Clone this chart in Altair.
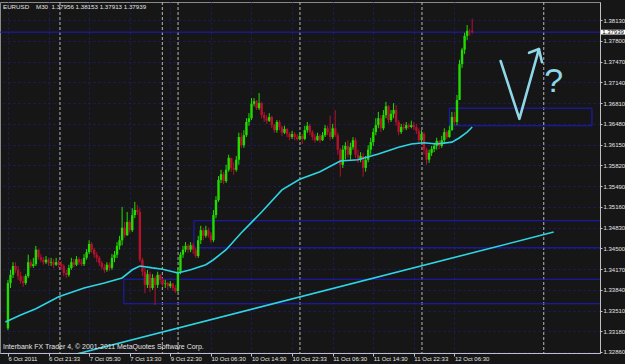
import altair as alt
import pandas as pd

# ---------------- data ----------------
first_open = 1.3323
closes = [1.3395,1.3408,1.3422,1.3416,1.3406,1.3398,1.3395,1.3406,1.3428,1.3422,
          1.3425,1.3448,1.3436,1.3432,1.3428,1.3432,1.3427,1.3428,1.3424,1.3428,
          1.3425,1.3422,1.3411,1.3408,1.3419,1.3428,1.3424,1.3433,1.3428,1.3425,
          1.3435,1.3444,1.3457,1.3448,1.3440,1.3435,1.3427,1.3420,1.3416,1.3424,
          1.3419,1.3435,1.3440,1.3454,1.3463,1.3483,1.3471,1.3492,1.3479,1.3503,
          1.3511,1.3508,1.3432,1.3413,1.3392,1.3409,1.3387,1.3403,1.3392,1.3408,
          1.3400,1.3394,1.3395,1.3390,1.3394,1.3387,1.3382,1.3413,1.3440,1.3448,
          1.3454,1.3448,1.3455,1.3448,1.3438,1.3463,1.3479,1.3470,1.3479,1.3471,
          1.3463,1.3503,1.3527,1.3559,1.3568,1.3557,1.3575,1.3594,1.3578,1.3575,
          1.3591,1.3627,1.3614,1.3630,1.3651,1.3657,1.3680,1.3684,1.3673,1.3681,
          1.3662,1.3657,1.3653,1.3659,1.3646,1.3638,1.3651,1.3643,1.3634,1.3640,
          1.3632,1.3627,1.3632,1.3627,1.3624,1.3629,1.3624,1.3638,1.3645,1.3635,
          1.3627,1.3622,1.3629,1.3622,1.3630,1.3641,1.3635,1.3627,1.3641,1.3630,
          1.3607,1.3583,1.3607,1.3613,1.3599,1.3611,1.3622,1.3599,1.3591,1.3597,
          1.3578,1.3591,1.3607,1.3619,1.3635,1.3646,1.3657,1.3641,1.3662,1.3676,
          1.3654,1.3664,1.3670,1.3651,1.3635,1.3643,1.3641,1.3646,1.3643,1.3646,
          1.3643,1.3637,1.3622,1.3632,1.3607,1.3591,1.3602,1.3608,1.3613,1.3621,
          1.3613,1.3622,1.3635,1.3627,1.3638,1.3659,1.3651,1.3686,1.3743,1.3766,
          1.3788,1.3796,1.37956,1.37939]
highs = [1.3400,1.3416,1.3428,1.3428,1.3422,1.3413,1.3406,1.3409,1.3440,1.3432,
         1.3435,1.3454,1.3449,1.3441,1.3436,1.3438,1.3435,1.3435,1.3433,1.3435,
         1.3432,1.3430,1.3425,1.3416,1.3424,1.3435,1.3433,1.3438,1.3436,1.3433,
         1.3441,1.3449,1.3463,1.3460,1.3451,1.3444,1.3438,1.3430,1.3425,1.3428,
         1.3428,1.3441,1.3446,1.3460,1.3470,1.3516,1.3492,1.3508,1.3495,1.3514,
         1.3524,1.3519,1.3514,1.3435,1.3419,1.3416,1.3413,1.3409,1.3406,1.3413,
         1.3409,1.3403,1.3400,1.3397,1.3398,1.3395,1.3392,1.3419,1.3444,1.3454,
         1.3460,1.3457,1.3460,1.3459,1.3451,1.3470,1.3486,1.3483,1.3486,1.3483,
         1.3476,1.3511,1.3533,1.3565,1.3575,1.3572,1.3583,1.3599,1.3594,1.3587,
         1.3597,1.3634,1.3634,1.3638,1.3657,1.3665,1.3689,1.3689,1.3686,1.3697,
         1.3683,1.3667,1.3662,1.3665,1.3661,1.3648,1.3654,1.3654,1.3645,1.3645,
         1.3641,1.3635,1.3637,1.3635,1.3632,1.3634,1.3632,1.3645,1.3651,1.3648,
         1.3638,1.3632,1.3634,1.3632,1.3635,1.3646,1.3645,1.3661,1.3648,1.3670,
         1.3634,1.3610,1.3614,1.3619,1.3622,1.3618,1.3627,1.3626,1.3607,1.3603,
         1.3602,1.3597,1.3614,1.3626,1.3641,1.3657,1.3667,1.3662,1.3670,1.3683,
         1.3678,1.3670,1.3681,1.3678,1.3654,1.3648,1.3649,1.3651,1.3649,1.3653,
         1.3651,1.3648,1.3641,1.3638,1.3635,1.3610,1.3607,1.3613,1.3618,1.3626,
         1.3622,1.3629,1.3641,1.3638,1.3645,1.3667,1.3667,1.3694,1.3750,1.3769,
         1.3793,1.3805,1.3799,1.38153]
lows = [1.3320,1.3387,1.3403,1.3411,1.3400,1.3394,1.3389,1.3392,1.3403,1.3419,
        1.3419,1.3422,1.3432,1.3428,1.3424,1.3425,1.3422,1.3422,1.3419,1.3422,
        1.3419,1.3416,1.3406,1.3403,1.3405,1.3416,1.3420,1.3422,1.3424,1.3422,
        1.3422,1.3432,1.3441,1.3443,1.3435,1.3428,1.3422,1.3416,1.3411,1.3413,
        1.3414,1.3416,1.3428,1.3435,1.3448,1.3455,1.3467,1.3470,1.3475,1.3476,
        1.3498,1.3503,1.3428,1.3406,1.3379,1.3387,1.3381,1.3384,1.3360,1.3387,
        1.3394,1.3389,1.3387,1.3384,1.3387,1.3382,1.3379,1.3381,1.3409,1.3435,
        1.3444,1.3443,1.3444,1.3441,1.3435,1.3435,1.3457,1.3463,1.3467,1.3467,
        1.3459,1.3460,1.3498,1.3524,1.3554,1.3552,1.3554,1.3572,1.3572,1.3567,
        1.3572,1.3583,1.3610,1.3610,1.3627,1.3645,1.3654,1.3676,1.3670,1.3670,
        1.3657,1.3651,1.3648,1.3651,1.3641,1.3634,1.3634,1.3638,1.3629,1.3632,
        1.3627,1.3622,1.3624,1.3622,1.3621,1.3622,1.3616,1.3622,1.3634,1.3630,
        1.3622,1.3618,1.3621,1.3618,1.3621,1.3627,1.3630,1.3622,1.3624,1.3627,
        1.3599,1.3564,1.3578,1.3591,1.3594,1.3591,1.3607,1.3594,1.3586,1.3587,
        1.3564,1.3572,1.3587,1.3599,1.3613,1.3630,1.3641,1.3635,1.3638,1.3657,
        1.3649,1.3651,1.3657,1.3645,1.3630,1.3632,1.3638,1.3638,1.3640,1.3641,
        1.3638,1.3632,1.3618,1.3619,1.3599,1.3583,1.3586,1.3597,1.3603,1.3607,
        1.3608,1.3610,1.3616,1.3624,1.3626,1.3637,1.3646,1.3646,1.3686,1.3737,
        1.3759,1.3781,1.3788,1.37913]

# moving average read at some bar indices
ma_idx = [-1, 5, 11, 20, 30, 38, 45, 49, 52, 57, 61, 67, 72, 78, 81, 86, 92, 94, 100,
          108, 115, 123, 131, 138, 146, 154, 159, 164, 169, 175, 178, 181, 183]
ma_val = [1.3333, 1.3344, 1.3354, 1.3373, 1.3387, 1.3395, 1.3403, 1.3416, 1.3422, 1.3419,
          1.3417, 1.3411, 1.3416, 1.3424, 1.3432, 1.3448, 1.3475, 1.3483, 1.3508, 1.3543,
          1.3560, 1.3572, 1.3589, 1.3591, 1.3600, 1.3611, 1.3616, 1.3618, 1.3616, 1.3619,
          1.3626, 1.3635, 1.3643]

# trend line (bar index, price)
trend_idx = [26, 215.1]
trend_val = [1.3281, 1.3476]

# rectangles (bar index from/to, price low/high)
rect_x1 = [45.7, 73.3, 174.0]
rect_x2 = [240.0, 240.0, 230.2]
rect_lo = [1.3362, 1.3451, 1.3645]
rect_hi = [1.3401, 1.3494, 1.3673]

# period separators (bar index)
sep_idx = [20.5, 60.85, 67.05, 115.1, 163.2, 211.2]

# hand drawn "V" arrow (bar index, price)
v_idx = [194.2, 201.6, 209.3]
v_val = [1.3748, 1.3656, 1.3767]
head_idx = [205.4, 209.3, 210.5]
head_val = [1.3761, 1.3767, 1.3746]

x_labels = ["6 Oct 2011", "6 Oct 21:33", "7 Oct 05:30", "7 Oct 13:30", "9 Oct 22:30",
            "10 Oct 06:30", "10 Oct 14:30", "10 Oct 22:33", "11 Oct 06:30",
            "11 Oct 14:30", "11 Oct 22:33", "12 Oct 06:30"]
y_ticks = [1.38130, 1.37800, 1.37470, 1.37140, 1.36810, 1.36480, 1.36150, 1.35820,
           1.35490, 1.35160, 1.34830, 1.34500, 1.34170, 1.33840, 1.33510, 1.33180, 1.32860]

NB = "\u00a0"
header = "EURUSD" + NB * 4 + "M30" + NB * 2 + "1.37956 1.38153 1.37913 1.37939"
footer = "Interbank FX Trader 4, \u00a9 2001-2011 MetaQuotes Software Corp."
bid = 1.37939

# ---------------- build tables ----------------
n = len(closes)
opens = [first_open] + closes[:-1]
bars = pd.DataFrame({
    "i": list(range(n)), "open": opens, "close": closes, "high": highs, "low": lows,
})
bars["dir"] = ["up" if c >= o else "down" for o, c in zip(opens, closes)]

ma = pd.DataFrame({"i": ma_idx, "p": ma_val})
trend = pd.DataFrame({"i": trend_idx, "p": trend_val})
rects = pd.DataFrame({"i": rect_x1, "x2": rect_x2, "p": rect_lo, "hi": rect_hi})
seps = pd.DataFrame({"i": sep_idx})
vdf = pd.DataFrame({
    "i": v_idx + head_idx, "p": v_val + head_val,
    "g": ["v"] * 3 + ["h"] * 3, "o": [0, 1, 2, 0, 1, 2],
})

BG = "#161616"
GRID = "#1c1c64"
BLUE = "#1c1cc8"
CYAN = "#2fd4e4"
PEN = "#8fd6e6"
UP = "#22dc00"
DOWN = "#b5102c"
TXT = "#e4e4e4"
FONT = "Liberation Sans"

xs = alt.Scale(domain=[-1.163, 231.4], nice=False, zero=False)
ys = alt.Scale(domain=[1.32837, 1.38418], nice=False, zero=False)

lbl_expr = "[" + ",".join("'%s'" % s for s in x_labels) + "][round(datum.value/16)]"

x_axis = alt.Axis(values=list(range(0, 16 * len(x_labels), 16)), labelExpr=lbl_expr,
                  grid=True, gridColor=GRID, gridDash=[2, 3], gridWidth=1,
                  domainColor="#c0c0c0", tickColor="#c0c0c0", tickSize=3,
                  labelAlign="left", labelBaseline="top", labelPadding=-1,
                  labelFontSize=6, labelColor=TXT, labelFont=FONT,
                  labelOverlap=False, labelFlush=False, title=None)
y_axis = alt.Axis(orient="right", values=y_ticks, format=".5f",
                  grid=True, gridColor=GRID, gridDash=[2, 3], gridWidth=1,
                  domainColor="#c0c0c0", tickColor="#c0c0c0", tickSize=2,
                  labelPadding=1, labelFontSize=6, labelColor=TXT, labelFont=FONT,
                  labelOverlap=False, labelFlush=False, title=None)


def X(field):
    return alt.X(field, scale=xs, axis=x_axis)


def Y(field):
    return alt.Y(field, scale=ys, axis=y_axis)


color = alt.Color("dir:N", scale=alt.Scale(domain=["up", "down"], range=[UP, DOWN]),
                  legend=None)

sep_layer = alt.Chart(seps).mark_rule(color="#b8b8b8", strokeDash=[3, 2],
                                      strokeWidth=1).encode(x=X("i:Q"))

rect_layer = alt.Chart(rects).mark_rect(fillOpacity=0, stroke=BLUE, strokeWidth=1,
                                         clip=True).encode(
    x=X("i:Q"), x2="x2:Q", y=Y("p:Q"), y2="hi:Q")

trend_layer = alt.Chart(trend).mark_line(color=CYAN, strokeWidth=1.6, clip=True).encode(
    x=X("i:Q"), y=Y("p:Q"))

bid_layer = alt.Chart(pd.DataFrame({"p": [bid]})).mark_rule(color=BLUE,
                                                             strokeWidth=1).encode(
    y=Y("p:Q"))

wick = alt.Chart(bars).mark_rule(strokeWidth=1, clip=True).encode(
    x=X("i:Q"), y=Y("low:Q"), y2="high:Q", color=color)

body = alt.Chart(bars).mark_bar(size=2.4, clip=True).encode(
    x=X("i:Q"), y=Y("open:Q"), y2="close:Q", color=color)

ma_layer = alt.Chart(ma).mark_line(color=CYAN, strokeWidth=1.6, clip=True).encode(
    x=X("i:Q"), y=Y("p:Q"))

v_layer = alt.Chart(vdf).mark_line(color=PEN, strokeWidth=2.6, strokeCap="round",
                                   strokeJoin="round").encode(
    x=X("i:Q"), y=Y("p:Q"), detail="g:N", order="o:Q")

q_layer = alt.Chart(pd.DataFrame({"t": ["?"], "i": [215.1], "p": [1.3714]})).mark_text(
    color=PEN, fontSize=34, font=FONT, baseline="middle", align="center").encode(
    x=X("i:Q"), y=Y("p:Q"), text="t:N")

price_box = alt.Chart(pd.DataFrame({"p": [bid]})).mark_point(
    shape="M-1,-0.2H1V0.2H-1Z", filled=True, fill="#ffffff", strokeWidth=0,
    size=576, opacity=1).encode(x=alt.value(613), y=Y("p:Q"))

price_txt = alt.Chart(pd.DataFrame({"p": [bid], "t": ["1.37939"]})).mark_text(
    color="#000000", fontSize=6, font=FONT, align="center", baseline="middle").encode(
    x=alt.value(613), y=Y("p:Q"), text="t:N")

head_txt = alt.Chart(pd.DataFrame({"t": [header]})).mark_text(
    color=TXT, fontSize=6.2, font=FONT, align="left", baseline="middle").encode(
    x=alt.value(3), y=alt.value(5), text="t:N")

foot_txt = alt.Chart(pd.DataFrame({"t": [footer]})).mark_text(
    color=TXT, fontSize=7, font=FONT, align="left", baseline="middle").encode(
    x=alt.value(3), y=alt.value(345), text="t:N")

chart = alt.layer(
    sep_layer, rect_layer, trend_layer, bid_layer, wick, body, ma_layer,
    v_layer, q_layer, price_box, price_txt, head_txt, foot_txt
).properties(
    width=600, height=351,
    padding={"left": 0, "top": 2, "right": 25, "bottom": 11},
    autosize=alt.AutoSizeParams(type="none"),
    background=BG,
).configure_view(stroke="#8a8a8a", strokeWidth=1, fill=BG)

chart.save("out.html", embed_options={"renderer": "svg", "actions": False})
